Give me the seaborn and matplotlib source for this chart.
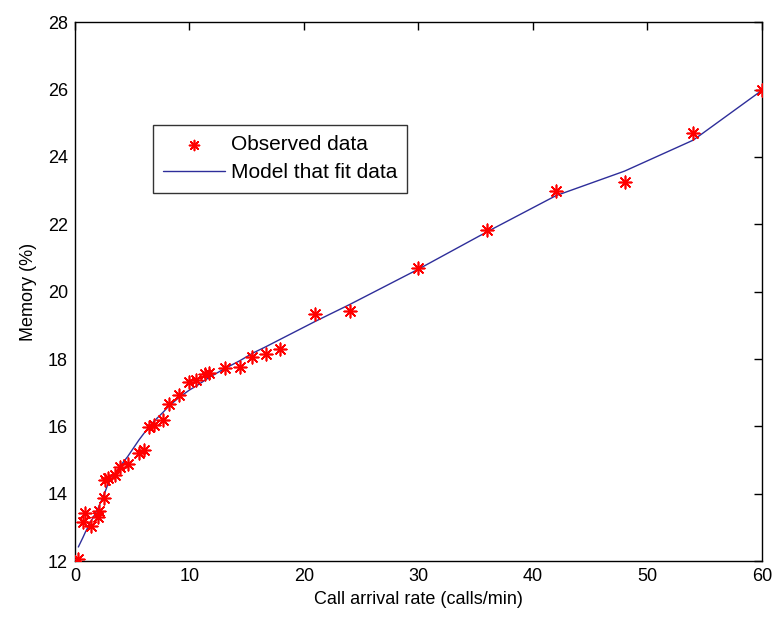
import matplotlib
matplotlib.use("Agg")
import matplotlib.pyplot as plt
import seaborn as sns
import pandas as pd

# call arrival rate (calls/min) and memory usage (%)
rate = [0.3, 0.7, 0.9, 1.4, 2.0, 2.1, 2.5, 2.6, 2.9, 3.5, 3.9, 4.6, 5.6, 6.0,
        6.5, 6.9, 7.7, 8.2, 9.1, 10.0, 10.6, 11.4, 11.7, 13.1, 14.4, 15.5,
        16.7, 17.9, 21, 24, 30, 36, 42, 48, 54, 60]
observed = [12.05, 13.15, 13.42, 13.04, 13.32, 13.5, 13.86, 14.4, 14.46, 14.55,
            14.8, 14.88, 15.2, 15.3, 15.98, 16.05, 16.2, 16.68, 16.93, 17.32,
            17.37, 17.57, 17.59, 17.74, 17.77, 18.06, 18.16, 18.3, 19.33, 19.43,
            20.69, 21.82, 22.98, 23.25, 24.7, 25.98]
model = [12.42, 12.7, 12.85, 13.18, 13.55, 13.62, 13.95, 14.02, 14.3, 14.6,
         14.8, 15.1, 15.6, 15.78, 16.0, 16.15, 16.42, 16.6, 16.86, 17.08,
         17.2, 17.38, 17.45, 17.72, 17.95, 18.17, 18.37, 18.58, 19.12, 19.62,
         20.67, 21.78, 22.85, 23.58, 24.5, 25.98]

df = pd.DataFrame({"rate": rate, "observed": observed, "model": model})

sns.set_theme(style="white")
plt.rcParams["font.family"] = ["Liberation Sans", "DejaVu Sans"]
plt.rcParams["text.color"] = "black"
plt.rcParams["axes.labelcolor"] = "black"

fig = plt.figure(figsize=(7.72, 6.18), dpi=100)
ax = fig.add_axes([0.097, 0.092, 0.89, 0.872])

sns.scatterplot(data=df, x="rate", y="observed", ax=ax, marker=(8, 2, 0),
                color="red", edgecolor="red", s=80, linewidth=1.2,
                label="Observed data", zorder=3)
sns.lineplot(data=df, x="rate", y="model", ax=ax, color="#2e2e9a",
             linewidth=1.0, label="Model that fit data", zorder=2)

ax.set_xlim(0, 60)
ax.set_ylim(12, 28)
ax.set_xticks(range(0, 61, 10))
ax.set_yticks(range(12, 29, 2))
ax.set_xlabel("Call arrival rate (calls/min)", fontsize=13, labelpad=4)
ax.set_ylabel("Memory (%)", fontsize=13, labelpad=8)
ax.tick_params(direction="in", length=6, width=1, labelsize=13,
               top=True, right=True, colors="black", pad=5)
for sp in ax.spines.values():
    sp.set_visible(True)
    sp.set_color("black")
    sp.set_linewidth(1)

leg = ax.legend(loc="upper left", bbox_to_anchor=(0.113, 0.81), fontsize=15,
                frameon=True, fancybox=False, edgecolor="black",
                handlelength=3.0, handletextpad=0.25, borderpad=0.5,
                labelspacing=0.45, borderaxespad=0, markerscale=0.8)
leg.get_frame().set_linewidth(1)

fig.savefig("out.png", dpi=100)
